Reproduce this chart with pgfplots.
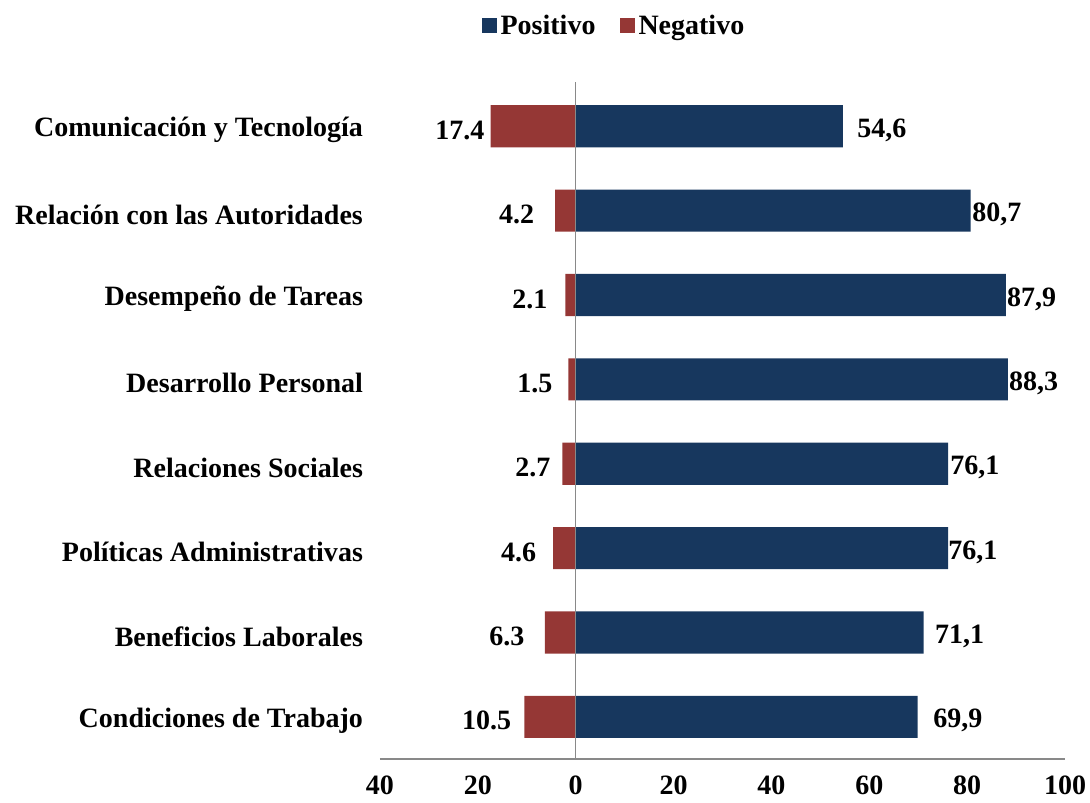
\documentclass[border=0pt]{standalone}
\usepackage{fontspec}
\setmainfont{Liberation Serif}
\usepackage{pgfplots}
\pgfplotsset{compat=1.18}
\usepackage{pgfplotstable}
\definecolor{posblue}{HTML}{17375E}
\definecolor{negred}{HTML}{953735}
\definecolor{axgray}{HTML}{898989}

% y: 7 = top row
\pgfplotstableread{
y  pos   neg
7  54.6  -17.4
6  80.7  -4.2
5  87.9  -2.1
4  88.3  -1.5
3  76.1  -2.7
2  76.1  -4.6
1  71.1  -6.3
0  69.9  -10.5
}\datatable

% label anchor positions (x) and texts
\pgfplotstableread{
y  px    plab  nx     nlab
7  57.5  54,6  -18.6  17.4
6  81.0  80,7  -8.4   4.2
5  88.1  87,9  -5.7   2.1
4  88.5  88,3  -4.7   1.5
3  76.5  76,1  -5.1   2.7
2  76.1  76,1  -8.0   4.6
1  73.4  71,1  -10.4  6.3
0  73.0  69,9  -13.1  10.5
}\labeltable

\begin{document}
\begin{tikzpicture}
\begin{axis}[
    font=\fontsize{14pt}{16pt}\selectfont\bfseries,
    /pgf/number format/assume math mode=true,
    scale only axis,
    width=342.5pt, height=337.5pt,
    xbar, bar width=0.5, bar shift=0pt,
    xmin=-40, xmax=100,
    ymin=-0.5, ymax=7.5,
    axis x line*=bottom,
    axis y line*=left,
    y axis line style={draw=none},
    x axis line style={draw=axgray, line width=0.8pt, -},
    xtick={-40,-20,0,20,40,60,80,100},
    xticklabels={40,20,0,20,40,60,80,100},
    major tick length=0pt,
    xticklabel style={yshift=-5pt},
    ytick={0,...,7},
    yticklabel style={xshift=-5pt, yshift=-2pt},
    yticklabels={Condiciones de Trabajo, Beneficios Laborales, Políticas Administrativas, Relaciones Sociales, Desarrollo Personal, Desempeño de Tareas, Relación con las Autoridades, Comunicación y Tecnología},
    legend style={draw=none, at={(0.343,1.086)}, anchor=center,
        legend columns=2, /tikz/every even column/.append style={column sep=10pt},
        font=\fontsize{14pt}{16pt}\selectfont\bfseries},
    legend image code/.code={\fill[#1] (0pt,-3.75pt) rectangle (7.5pt,3.75pt);},
    clip=false,
]
\addplot[fill=posblue, draw=none] table[x=pos, y=y] {\datatable};
\addlegendentry{Positivo}
\addplot[fill=negred, draw=none] table[x=neg, y=y] {\datatable};
\addlegendentry{Negativo}

\addplot[draw=none, mark=none, forget plot, xbar=0pt, bar width=0,
    nodes near coords, point meta=explicit symbolic,
    every node near coord/.style={anchor=west, inner sep=0pt, black, yshift=-2pt}]
    table[x=px, y=y, meta=plab] {\labeltable};
\addplot[draw=none, mark=none, forget plot, xbar=0pt, bar width=0,
    nodes near coords, point meta=explicit symbolic,
    every node near coord/.style={anchor=east, inner sep=0pt, black, yshift=-2pt}]
    table[x=nx, y=y, meta=nlab] {\labeltable};

\draw[axgray, line width=0.8pt] (axis cs:0,-0.5) -- (axis cs:0,7.52);
\coordinate (bbll) at (rel axis cs:-0.5547,-0.0637);
\coordinate (bbur) at (rel axis cs:1.0365,1.1245);
\end{axis}
\pgfresetboundingbox
\path[use as bounding box] (bbll) rectangle (bbur);
\end{tikzpicture}
\end{document}
